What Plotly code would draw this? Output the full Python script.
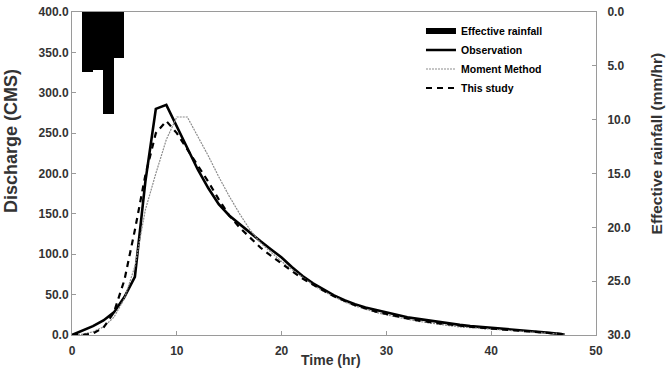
import plotly.graph_objects as go

# ---- data ----
time_hr = list(range(0, 48))
observation = [0, 5, 11, 18, 28, 47, 72, 190, 280, 285, 258, 232, 205, 182, 162, 148,
               137, 127, 116, 106, 96, 84, 73, 64, 56, 49, 43, 38, 34, 31, 28, 25,
               22, 20, 18, 16, 14, 12.5, 11, 10, 8.5, 7.5, 6.5, 5.5, 4.5, 3.5, 2, 0.5]
moment_method = [0, 1, 4, 10, 22, 45, 85, 155, 200, 242, 270, 270, 246, 222, 196, 172,
                 150, 130, 114, 102, 91, 81, 71, 62, 54, 47, 41, 36, 32, 28, 25, 22,
                 19.5, 17, 15, 13, 11.5, 10, 9, 8, 7, 6, 5, 4, 3.2, 2.4, 1.6, 1]
this_study = [0, 0, 2, 9, 28, 68, 130, 198, 250, 265, 250, 230, 210, 190, 168, 148,
              133, 120, 108, 98, 88, 79, 70, 62, 55, 48, 42, 37, 33, 29, 26, 23,
              20.5, 18, 16, 14.5, 13, 11.5, 10, 9, 8, 7, 6, 5, 4, 3, 2, 1]
rain_time = [1.5, 2.5, 3.5, 4.5]
rain_mm = [5.6, 5.4, 9.5, 4.3]

FONT = "Liberation Sans, Arial, sans-serif"
AX = "#9a9a9a"
TXT = "#333333"

fig = go.Figure()

fig.add_trace(go.Bar(x=rain_time, y=rain_mm, width=1.0, yaxis="y2",
                     marker=dict(color="black", line=dict(width=0)),
                     showlegend=False, name="Effective rainfall"))
fig.add_trace(go.Scatter(x=[None], y=[None], mode="lines", name="Effective rainfall",
                         line=dict(color="black", width=6)))
fig.add_trace(go.Scatter(x=time_hr, y=observation, mode="lines", name="Observation",
                         line=dict(color="black", width=2.6)))
fig.add_trace(go.Scatter(x=time_hr, y=moment_method, mode="lines", name="Moment Method",
                         line=dict(color="#8c8c8c", width=1.2, dash="2px,1px")))
fig.add_trace(go.Scatter(x=time_hr, y=this_study, mode="lines", name="This study",
                         line=dict(color="black", width=2.2, dash="6px,5px")))

tickfont = dict(family=FONT, size=12, color=TXT, weight="bold")

fig.update_layout(
    width=671, height=369, autosize=False,
    margin=dict(l=72, r=75, t=12, b=34, autoexpand=False),
    paper_bgcolor="white", plot_bgcolor="white",
    bargap=0,
    xaxis=dict(range=[0, 50], dtick=10, showgrid=False, zeroline=False, automargin=False,
               showline=True, linecolor=AX, linewidth=1, mirror=True,
               ticks="inside", ticklen=4, tickcolor=AX, tickfont=tickfont,
               ticklabelstandoff=5),
    yaxis=dict(range=[0, 400], dtick=50, tickformat=".1f", showgrid=False, zeroline=False,
               automargin=False,
               showline=True, linecolor=AX, linewidth=1,
               ticks="inside", ticklen=4, tickcolor=AX, tickfont=tickfont),
    yaxis2=dict(range=[30, 0], dtick=5, tickformat=".1f", overlaying="y", side="right",
                automargin=False,
                showgrid=False, zeroline=False, showline=True, linecolor=AX, linewidth=1,
                ticks="inside", ticklen=4, tickcolor=AX, tickfont=tickfont,
                ticklabelstandoff=8),
    legend=dict(x=0.666, y=0.986, xanchor="left", yanchor="top",
                bgcolor="rgba(0,0,0,0)", font=dict(family=FONT, size=10.5, color="black", weight="bold"),
                itemwidth=30),
    annotations=[
        dict(text="Discharge (CMS)", xref="paper", yref="paper", x=-0.1164, y=0.6006,
             xanchor="center", yanchor="middle", textangle=-90, showarrow=False,
             font=dict(family=FONT, size=18, color=TXT, weight="bold")),
        dict(text="Effective rainfall (mm/hr)", xref="paper", yref="paper", x=1.1145, y=0.593,
             xanchor="center", yanchor="middle", textangle=-90, showarrow=False,
             font=dict(family=FONT, size=15.5, color=TXT, weight="bold")),
        dict(text="Time (hr)", xref="paper", yref="paper", x=0.4943, y=-0.1053,
             xanchor="center", yanchor="bottom", showarrow=False, borderpad=0,
             font=dict(family=FONT, size=14, color=TXT, weight="bold")),
    ],
)

fig.write_html("out.html")
